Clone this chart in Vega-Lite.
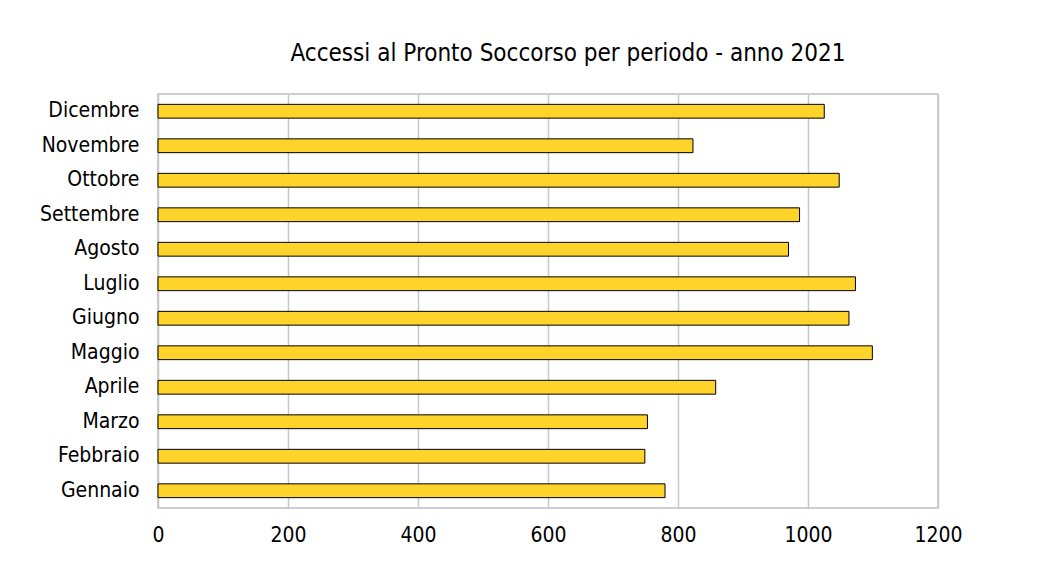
{
  "$schema": "https://vega.github.io/schema/vega-lite/v6.json",
  "width": 780,
  "height": 414,
  "autosize": {"type": "none"},
  "padding": {"left": 158, "top": 94, "right": 100, "bottom": 74},
  "background": "white",
  "title": {
    "text": "Accessi al Pronto Soccorso per periodo - anno 2021",
    "font": "DejaVu Sans Condensed",
    "fontSize": 24,
    "fontWeight": "normal",
    "color": "#000000",
    "anchor": "middle",
    "dx": 20,
    "offset": 28
  },
  "config": {
    "view": {"stroke": "#bfbfbf", "strokeWidth": 1.5},
    "axis": {
      "labelFont": "DejaVu Sans Condensed",
      "labelFontSize": 21,
      "labelColor": "#000000",
      "ticks": false,
      "domain": false,
      "title": null
    }
  },
  "data": {
    "values": [
      {"mese": "Gennaio", "accessi": 780},
      {"mese": "Febbraio", "accessi": 749},
      {"mese": "Marzo", "accessi": 753},
      {"mese": "Aprile", "accessi": 858},
      {"mese": "Maggio", "accessi": 1099},
      {"mese": "Giugno", "accessi": 1063},
      {"mese": "Luglio", "accessi": 1073},
      {"mese": "Agosto", "accessi": 970},
      {"mese": "Settembre", "accessi": 987},
      {"mese": "Ottobre", "accessi": 1048},
      {"mese": "Novembre", "accessi": 823},
      {"mese": "Dicembre", "accessi": 1025}
    ]
  },
  "mark": {"type": "bar", "fill": "#FFD42A", "stroke": "#000000", "strokeWidth": 1},
  "encoding": {
    "y": {
      "field": "mese",
      "type": "nominal",
      "sort": ["Dicembre", "Novembre", "Ottobre", "Settembre", "Agosto", "Luglio", "Giugno", "Maggio", "Aprile", "Marzo", "Febbraio", "Gennaio"],
      "scale": {"paddingInner": 0.6, "paddingOuter": 0.3},
      "axis": {"labelPadding": 19, "grid": false}
    },
    "x": {
      "field": "accessi",
      "type": "quantitative",
      "scale": {"domain": [0, 1200], "nice": false},
      "axis": {"values": [0, 200, 400, 600, 800, 1000, 1200], "format": "d", "grid": true, "gridColor": "#c8c8c8", "gridWidth": 1.5, "labelPadding": 16, "labelFlush": false, "labelOverlap": false}
    }
  }
}
